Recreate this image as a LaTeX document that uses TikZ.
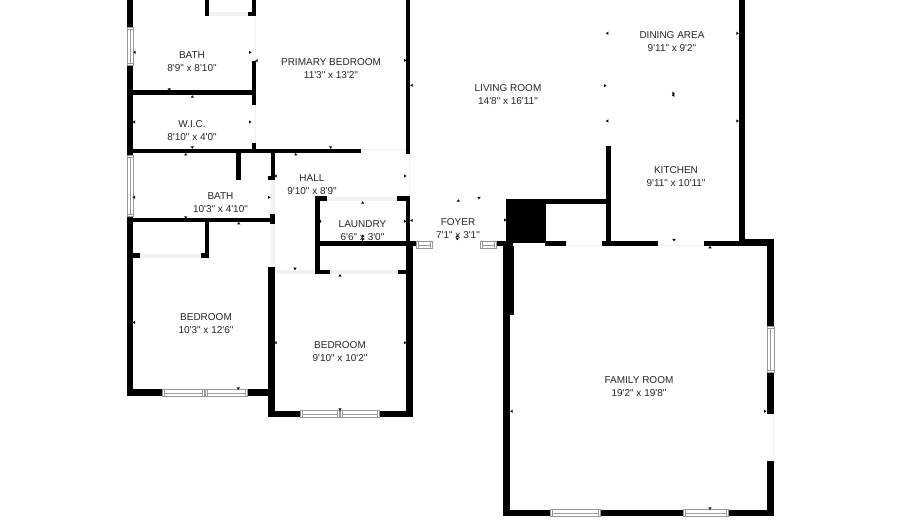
\documentclass[tikz,border=0pt]{standalone}
\usepackage{fontspec}
\newfontfamily\planfont{Liberation Sans}

\tikzset{
  roomlabel/.style={align=center, inner sep=0pt, text=black!85, font=\planfont\fontsize{10}{13}\selectfont},
  wall/.style={fill=black},
  winframe/.style={draw=black!40, fill=white, line width=0.5pt},
  opening/.style={fill=black!5},
  tick mark/.style={fill=black}
}

% wall piece and window by corner points
\newcommand{\wallbar}[4]{\fill[wall] (#1,#2) rectangle (#3,#4);}
\newcommand{\winh}[4]{%
  \draw[winframe] (#1,#2) rectangle (#3,#4);
  \draw[black!40, line width=0.4pt] (#1+2,#2) -- (#1+2,#4) (#3-2,#2) -- (#3-2,#4);
  \draw[black!40, line width=0.4pt] (#1+2,{(#2+#4)/2}) -- (#3-2,{(#2+#4)/2});}
\newcommand{\winv}[4]{%
  \draw[winframe] (#1,#2) rectangle (#3,#4);
  \draw[black!40, line width=0.4pt] (#1,#2+2) -- (#3,#2+2) (#1,#4-2) -- (#3,#4-2);
  \draw[black!40, line width=0.4pt] ({(#1+#3)/2},#2+2) -- ({(#1+#3)/2},#4-2);}

\begin{document}
\begin{tikzpicture}[x=1pt, y=-1pt]

  \useasboundingbox[fill=white] (0,0) rectangle (900,529);

  % left wing, outer walls
  \wallbar{126.5}{0}{133}{27}
  \wallbar{126.5}{65}{133}{155}
  \wallbar{126.5}{216}{133}{396}
  \wallbar{126.5}{389.5}{162}{396}
  \wallbar{247}{389.5}{270}{396}
  \wallbar{268}{267}{275}{417}
  \wallbar{268}{410.5}{300}{417}
  \wallbar{379}{410.5}{413}{417}
  \wallbar{406}{245}{413}{417}
  \wallbar{405.5}{0}{410}{154}
  \wallbar{405.5}{196}{410}{245}

  % left wing, inner walls
  \wallbar{205}{0}{209}{16}
  \wallbar{248}{12}{256}{16}
  \wallbar{251.5}{0}{256}{16}
  \wallbar{251.5}{61}{256}{105}
  \wallbar{133}{90.5}{252}{95}
  \wallbar{251.5}{143}{256}{150}
  \wallbar{133}{149}{361}{153.5}
  \wallbar{236}{153}{241}{180}
  \wallbar{271}{153}{275}{180}
  \wallbar{268}{176}{275}{180}
  \wallbar{133}{218}{272}{222.5}
  \wallbar{270}{214}{275}{224}
  \wallbar{205}{222}{209}{258}
  \wallbar{200.5}{253.5}{209}{258}
  \wallbar{133}{253.5}{139.5}{258}

  % laundry and closet
  \wallbar{315}{196.5}{327}{201}
  \wallbar{397}{196.5}{409}{201}
  \wallbar{315}{196.5}{319.5}{274}
  \wallbar{319}{241.5}{416}{246}
  \wallbar{315}{270}{330}{274.5}
  \wallbar{398}{270}{407}{274.5}

  % openings
  \fill[opening] (209,12.5) rectangle (248,16);
  \fill[opening] (139.5,254.5) rectangle (200.5,258);
  \fill[opening] (327,197) rectangle (397,201);
  \fill[opening] (330,270.5) rectangle (398,274);
  \fill[opening] (275,270.5) rectangle (315,274);
  \fill[opening] (270.5,224) rectangle (275,267);
  \fill[opening] (270.5,180) rectangle (275,214);
  \fill[opening] (409,154) rectangle (410,196);
  \fill[opening] (255,16) rectangle (256,61);
  \fill[opening] (255,105) rectangle (256,143);
  \fill[opening] (361,149) rectangle (406,150);
  \fill[opening] (566,245) rectangle (602,246);
  \fill[opening] (658,245) rectangle (704,246);
  \fill[opening] (773,414) rectangle (774,461);

  % centre and kitchen
  \wallbar{400}{241.5}{416}{246}
  \wallbar{496}{241.5}{513}{246}
  \wallbar{505.5}{199.5}{545.5}{243}
  \wallbar{545}{199.5}{607}{204}
  \wallbar{606}{146}{611}{246}
  \wallbar{545}{241.5}{566}{246}
  \wallbar{602}{241.5}{658}{246}
  \wallbar{704}{241.5}{774}{246}
  \wallbar{739}{0}{745}{241}
  \wallbar{739}{239}{774}{246}

  % family room
  \wallbar{503}{246}{514}{315}
  \wallbar{503}{246}{510}{516}
  \wallbar{503}{509.5}{550}{516}
  \wallbar{600}{509.5}{683}{516}
  \wallbar{728}{509.5}{774}{516}
  \wallbar{767}{239}{774}{326}
  \wallbar{767}{372}{774}{414}
  \wallbar{767}{461}{774}{516}

  % windows
  \winv{127}{27}{133}{65}
  \winv{127}{155.5}{133}{216}
  \winh{162}{389.5}{204}{396}
  \winh{205}{389.5}{247}{396}
  \winh{300}{410.5}{339}{417}
  \winh{340}{410.5}{379}{417}
  \winh{416}{241.5}{432}{248}
  \winh{480}{241.5}{496}{248}
  \winh{550}{509.5}{600}{516}
  \winh{683}{509.5}{728}{516}
  \winv{767}{326.5}{774}{372}

  % small dimension marks
  \foreach \mx/\my/\ma in {134.7/52.3/180, 250/52.3/0, 169.3/89.5/-90, 192.3/96.7/90, 256.7/60.7/180,
      405/60.3/0, 411.7/85.3/180, 134/122/180, 250/122/0, 192.3/147.3/-90, 330.7/147.3/-90,
      185.7/154.5/90, 295.7/154.5/90, 275.7/176/180, 405/176/0, 134/197.3/180, 269/197.3/0,
      185.7/217.3/-90, 238.7/223.3/90, 362.7/202.7/90, 320/221.3/180, 405/221.3/0, 411.7/220.5/180,
      362.7/236/90, 362.7/239.5/-90, 134/322.3/180, 269/322.3/0, 238.3/388.3/-90, 275.7/342.7/180,
      405/342.7/0, 295/268.7/-90, 340/275.7/90, 340/409.3/-90, 458.3/200.7/90, 479/198/-90,
      505/220/0, 457.3/236/90, 457.3/238.8/-90, 674/240/-90, 710/247.3/90, 511.7/411.3/180,
      765/411.3/0, 710/508.3/-90, 607.3/33.3/180, 737.3/33.3/0, 605/85.7/0, 673.3/93.3/0,
      673.3/95.3/180, 607.3/121/180, 737.3/121/0}
    \fill[tick mark, shift={(\mx,\my)}, rotate=\ma] (1.5,0) -- (-1,-1.6) -- (-1,1.6) -- cycle;

  % room labels
  \node[roomlabel] (bathTop) at (192,62) {BATH\\8'9" x 8'10"};
  \node[roomlabel] (primaryBed) at (331,69) {PRIMARY BEDROOM\\11'3" x 13'2"};
  \node[roomlabel] (livingRoom) at (508,95) {LIVING ROOM\\14'8" x 16'11"};
  \node[roomlabel] (diningArea) at (672,42) {DINING AREA\\9'11" x 9'2"};
  \node[roomlabel] (wic) at (192,131) {W.I.C.\\8'10" x 4'0"};
  \node[roomlabel] (hall) at (312,185) {HALL\\9'10" x 8'9"};
  \node[roomlabel] (bathLow) at (220.5,203) {BATH\\10'3" x 4'10"};
  \node[roomlabel] (laundry) at (362.5,230.5) {LAUNDRY\\6'6" x 3'0"};
  \node[roomlabel] (foyer) at (458,229) {FOYER\\7'1" x 3'1"};
  \node[roomlabel] (kitchen) at (676,177) {KITCHEN\\9'11" x 10'11"};
  \node[roomlabel] (bedLeft) at (206,324) {BEDROOM\\10'3" x 12'6"};
  \node[roomlabel] (bedRight) at (340,352) {BEDROOM\\9'10" x 10'2"};
  \node[roomlabel] (familyRoom) at (639,387) {FAMILY ROOM\\19'2" x 19'8"};

\end{tikzpicture}
\end{document}
